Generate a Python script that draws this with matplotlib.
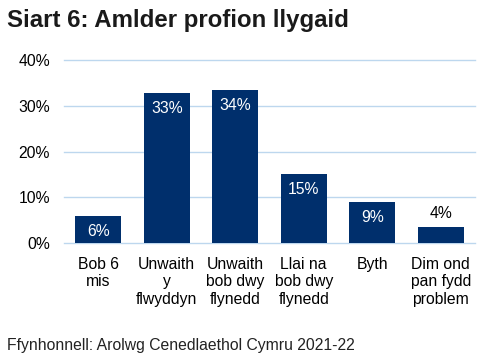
import matplotlib
matplotlib.use("Agg")
import matplotlib.pyplot as plt

categories = ["Bob 6\nmis", "Unwaith\ny\nflwyddyn", "Unwaith\nbob dwy\nflynedd",
              "Llai na\nbob dwy\nflynedd", "Byth", "Dim ond\npan fydd\nproblem"]
values = [5.9, 32.8, 33.4, 15.1, 9.0, 3.5]
labels = ["6%", "33%", "34%", "15%", "9%", "4%"]
yticks = [0, 10, 20, 30, 40]
ytick_labels = ["0%", "10%", "20%", "30%", "40%"]

plt.rcParams['font.family'] = ['Liberation Sans', 'DejaVu Sans']

W, H = 489, 362
fs = 11.3
fig = plt.figure(figsize=(W/100, H/100), dpi=100)
ax = fig.add_axes([64/W, 1-243/H, (475-64)/W, (243-60)/H])

bar_color = "#002F6C"
x = list(range(len(categories)))
bars = ax.bar(x, values, width=0.67, color=bar_color, zorder=3)
ax.set_xlim(-0.5, len(categories)-0.5)
ax.set_ylim(0, 40)
ax.set_yticks(yticks)
ax.set_yticklabels(ytick_labels)
ax.set_xticks(x)
ax.set_xticklabels(categories, linespacing=1.2)
ax.tick_params(axis='both', length=0, labelsize=fs, colors='#000000')
ax.tick_params(axis='y', pad=10)
ax.tick_params(axis='x', pad=10)
for s in ax.spines.values():
    s.set_visible(False)
ax.grid(axis='y', color='#BDD7EE', linewidth=1.0, zorder=0)
for gl in ax.get_ygridlines():
    gl.set_clip_on(False)

for i, (b, lab) in enumerate(zip(bars, labels)):
    top = b.get_height()
    cx = b.get_x() + b.get_width()/2
    if i == len(bars)-1:
        ax.annotate(lab, (cx, top), xytext=(0, 10), textcoords='offset points',
                    ha='center', va='center', fontsize=fs, color='black', zorder=4)
    else:
        ax.annotate(lab, (cx, top), xytext=(0, -11), textcoords='offset points',
                    ha='center', va='center', fontsize=fs, color='white', zorder=4)

fig.text(7/W, 1-27/H, "Siart 6: Amlder profion llygaid", fontsize=17.3,
         fontweight='bold', color='#1a1a1a', ha='left', va='baseline')
fig.text(7/W, 1-350/H, "Ffynhonnell: Arolwg Cenedlaethol Cymru 2021-22",
         fontsize=fs, color='#222222', ha='left', va='baseline')

fig.savefig("out.png", dpi=100)
